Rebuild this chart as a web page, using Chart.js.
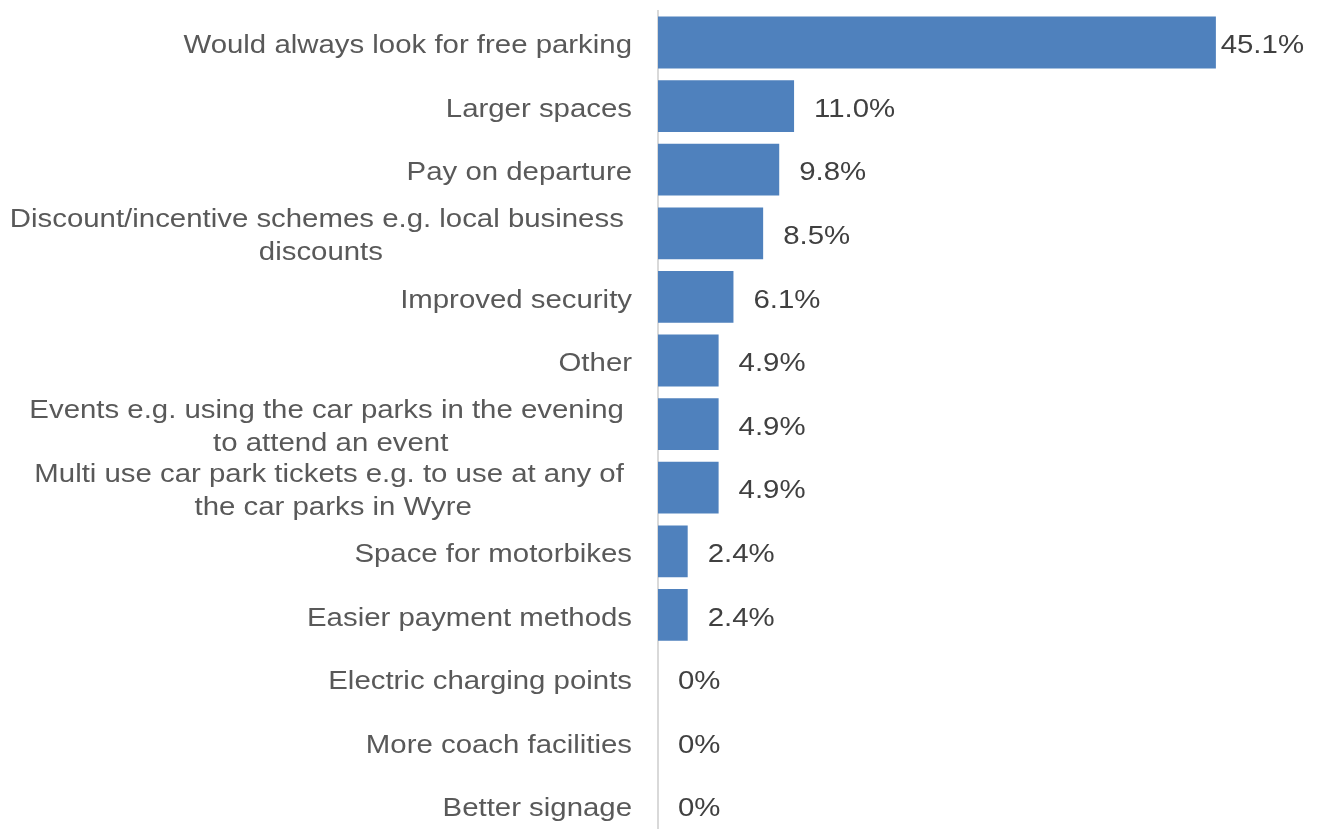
<!DOCTYPE html>
<html>
<head>
<meta charset="utf-8">
<script src="https://cdn.jsdelivr.net/npm/chart.js@4/dist/chart.umd.min.js"></script>
<style>
  html, body { margin: 0; padding: 0; background: #fff; overflow: hidden; }
  #wrap { width: 1320px; height: 840px; }
</style>
</head>
<body>
<div id="wrap"><canvas id="parkingChart"></canvas></div>
<script>
const categories = [
    ['Would always look for free parking'],
    ['Larger spaces'],
    ['Pay on departure'],
    ['Discount/incentive schemes e.g. local business ', 'discounts'],
    ['Improved security'],
    ['Other'],
    ['Events e.g. using the car parks in the evening ', 'to attend an event'],
    ['Multi use car park tickets e.g. to use at any of ', 'the car parks in Wyre'],
    ['Space for motorbikes'],
    ['Easier payment methods'],
    ['Electric charging points'],
    ['More coach facilities'],
    ['Better signage']
];
const percentages = [45.1, 11.0, 9.8, 8.5, 6.1, 4.9, 4.9, 4.9, 2.4, 2.4, 0, 0, 0];
const valueLabels = ['45.1%', '11.0%', '9.8%', '8.5%', '6.1%', '4.9%', '4.9%', '4.9%', '2.4%', '2.4%', '0%', '0%', '0%'];

const FONT = '26px "Liberation Sans", Arial, sans-serif';
const STRETCH = 1.13;   // text is a little wider than tall
const LINE_H = 33;
const TEXT_DY = 3.5;

// fill text with a horizontal stretch; x is the left edge
function wideText(ctx, txt, x, y) {
    ctx.save();
    ctx.translate(x, y);
    ctx.scale(STRETCH, 1);
    ctx.fillText(txt, 0, 0);
    ctx.restore();
}

function wideWidth(ctx, txt) {
    return ctx.measureText(txt).width * STRETCH;
}

// category names beside the axis, lines centred inside a right-aligned block
const categoryText = {
    id: 'categoryText',
    afterDraw(chart) {
        const ctx = chart.ctx;
        const yScale = chart.scales.y;
        ctx.save();
        ctx.font = FONT;
        ctx.fillStyle = '#595959';
        ctx.textBaseline = 'middle';
        ctx.textAlign = 'left';
        categories.forEach((lines, i) => {
            const y = yScale.getPixelForTick(i) + TEXT_DY;
            const blockW = Math.max(...lines.map(l => wideWidth(ctx, l)));
            const cx = 632 - blockW / 2;
            const top = y - (lines.length - 1) * LINE_H / 2;
            lines.forEach((l, j) => wideText(ctx, l, cx - wideWidth(ctx, l) / 2, top + j * LINE_H));
        });
        ctx.restore();
    }
};

// percentage after each bar end
const valueText = {
    id: 'valueText',
    afterDatasetsDraw(chart) {
        const ctx = chart.ctx;
        const meta = chart.getDatasetMeta(0);
        ctx.save();
        ctx.font = FONT;
        ctx.fillStyle = '#404040';
        ctx.textBaseline = 'middle';
        ctx.textAlign = 'left';
        meta.data.forEach((bar, i) => {
            const txt = valueLabels[i];
            const w = wideWidth(ctx, txt);
            const x = Math.min(bar.x + 20, chart.width - 16 - w);
            wideText(ctx, txt, x, bar.y + TEXT_DY);
        });
        ctx.restore();
    }
};

const ctx = document.getElementById('parkingChart').getContext('2d');
new Chart(ctx, {
    type: 'bar',
    data: {
        labels: categories,
        datasets: [{
            data: percentages,
            backgroundColor: '#4f81bd',
            borderWidth: 0,
            barPercentage: 0.815,
            categoryPercentage: 1.0
        }]
    },
    options: {
        indexAxis: 'y',
        responsive: true,
        maintainAspectRatio: false,
        animation: false,
        layout: { padding: { top: 10.7, right: 43.5, bottom: 2.5, left: 0 } },
        plugins: {
            legend: { display: false },
            tooltip: { enabled: false }
        },
        scales: {
            x: {
                display: false,
                min: 0,
                max: 50
            },
            y: {
                afterFit(scale) { scale.width = 658; },
                ticks: { display: false },
                grid: { display: false, drawTicks: false },
                border: { display: true, color: '#d9d9d9', width: 2 }
            }
        }
    },
    plugins: [categoryText, valueText]
});
</script>
</body>
</html>
